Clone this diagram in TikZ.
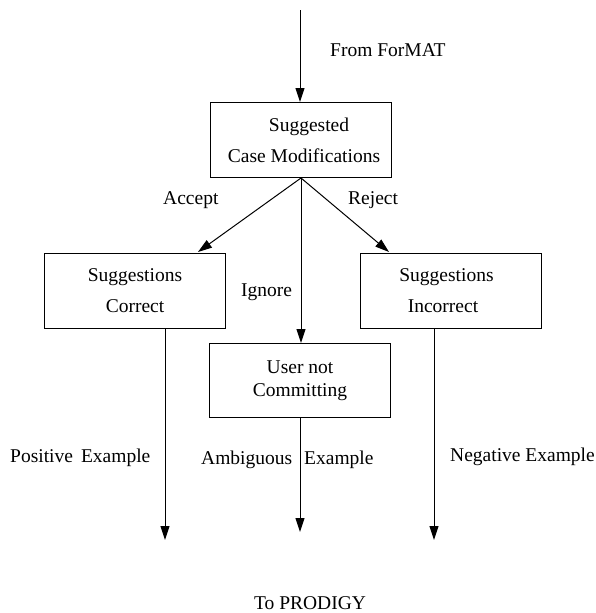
\documentclass[tikz,border=0pt]{standalone}
\usepackage{fontspec}
\setmainfont{Liberation Serif}
\usetikzlibrary{arrows.meta}
\begin{document}
\begin{tikzpicture}[x=1pt,y=-1pt,
  box/.style={draw,line width=1pt,minimum width=181pt,minimum height=75pt,anchor=north west,inner sep=0pt,align=center,font=\fontsize{19.5}{31}\selectfont},
  lbl/.style={font=\fontsize{19.5}{22}\selectfont,inner sep=0pt,anchor=west},
  arr/.style={line width=1pt,-{Triangle[length=14pt,width=9pt]}}]
\useasboundingbox (0,0) rectangle (595,613);
\node[box] (sug) at (210,102) {\hspace*{16pt}Suggested\\\hspace*{6pt}Case Modifications};
\node[box] (cor) at (44,253) {Suggestions\\Correct};
\node[box] (inc) at (360,253) {Suggestions\hspace*{9pt}\\Incorrect\hspace*{16pt}};
\node[box,minimum height=74pt,font=\fontsize{19.5}{23}\selectfont] (usr) at (209,343) {User not\\Committing};
\coordinate (top) at (300,10);
\coordinate (corA) at (198,252);
\coordinate (incA) at (389,252);
\coordinate (corS) at (165,328);
\coordinate (incS) at (434,328);
\coordinate (corE) at (165,540);
\coordinate (incE) at (434,540);
\coordinate (usrE) at (300,532);
\draw[arr] (top) -- (sug.north -| top);
\draw[arr] (sug.south) -- (corA);
\draw[arr] (sug.south) -- (incA);
\draw[arr] (sug.south) -- (usr.north -| sug.south);
\draw[arr] (corS) -- (corE);
\draw[arr] (incS) -- (incE);
\draw[arr] (usr.south -| usrE) -- (usrE);
\node[lbl] (fm) at (330,50) {From ForMAT};
\node[lbl] (acc) at (163,200) {Accept};
\node[lbl] (rej) at (348,200) {Reject};
\node[lbl] (ign) at (241,292) {Ignore};
\node[lbl] (pos) at (10,458) {Positive\hspace{8pt}Example};
\node[lbl] (amb) at (201,460) {Ambiguous\hspace{12pt}Example};
\node[lbl] (neg) at (450,457) {Negative Example};
\node[font=\fontsize{19.5}{22}\selectfont,inner sep=0pt] (pro) at (310,603) {To PRODIGY};
\end{tikzpicture}
\end{document}
